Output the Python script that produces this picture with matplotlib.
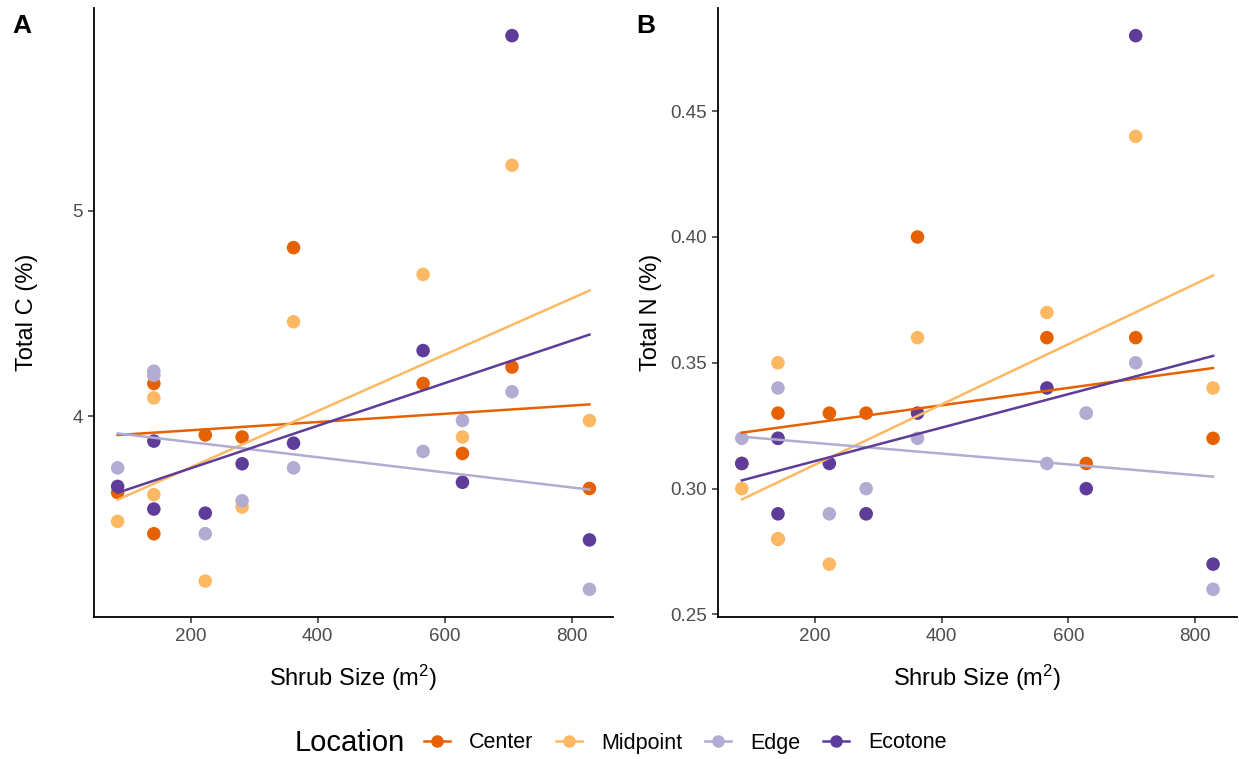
import numpy as np
import matplotlib
matplotlib.use("Agg")
import matplotlib.pyplot as plt
from matplotlib.lines import Line2D

plt.rcParams['font.family'] = ['Liberation Sans', 'DejaVu Sans']
plt.rcParams['mathtext.fontset'] = 'custom'
plt.rcParams['mathtext.rm'] = 'Liberation Sans'
plt.rcParams['mathtext.it'] = 'Liberation Sans:italic'

locations = ["Center", "Midpoint", "Edge", "Ecotone"]
colors = {"Center": "#E66101", "Midpoint": "#FDB863",
          "Edge": "#B2ABD2", "Ecotone": "#5E3C99"}

shrub_size = [85, 142, 142, 223, 281, 362, 566, 628, 706, 828]  # m2

total_c = {"Center":   [3.63, 4.16, 3.43, 3.91, 3.90, 4.82, 4.16, 3.82, 4.24, 3.65],
           "Midpoint": [3.49, 4.09, 3.62, 3.20, 3.56, 4.46, 4.69, 3.90, 5.22, 3.98],
           "Edge":     [3.75, 4.22, 4.20, 3.43, 3.59, 3.75, 3.83, 3.98, 4.12, 3.16],
           "Ecotone":  [3.66, 3.88, 3.55, 3.53, 3.77, 3.87, 4.32, 3.68, 5.85, 3.40],
           }  # %
total_n = {"Center":   [0.31, 0.33, 0.28, 0.33, 0.33, 0.40, 0.36, 0.31, 0.36, 0.32],
           "Midpoint": [0.30, 0.35, 0.28, 0.27, 0.29, 0.36, 0.37, 0.33, 0.44, 0.34],
           "Edge":     [0.32, 0.34, 0.32, 0.29, 0.30, 0.32, 0.31, 0.33, 0.35, 0.26],
           "Ecotone":  [0.31, 0.32, 0.29, 0.31, 0.29, 0.33, 0.34, 0.30, 0.48, 0.27],
           }  # %

x_ticks = [200, 400, 600, 800]
c_ticks = [4, 5]
n_ticks = [0.25, 0.30, 0.35, 0.40, 0.45]


def expand(vals, frac=0.05):
    lo, hi = min(vals), max(vals)
    pad = (hi - lo) * frac
    return lo - pad, hi + pad


def panel(ax, data, yticks, ylabel, fmt, tag):
    x = np.array(shrub_size, dtype=float)
    for loc in locations:
        ax.scatter(x, data[loc], s=95, color=colors[loc], edgecolors='none', zorder=2)
    for loc in locations:
        a, b = np.polyfit(x, data[loc], 1)
        xs = np.array([x.min(), x.max()])
        ax.plot(xs, a * xs + b, color=colors[loc], lw=1.8, zorder=3)
    allv = [v for loc in locations for v in data[loc]]
    ax.set_xlim(expand(shrub_size))
    ax.set_ylim(expand(allv))
    ax.set_xticks(x_ticks)
    ax.set_yticks(yticks)
    ax.set_yticklabels([fmt.format(t) for t in yticks])
    ax.spines[['top', 'right']].set_visible(False)
    for s in ['left', 'bottom']:
        ax.spines[s].set_linewidth(1.3)
        ax.spines[s].set_color('black')
    ax.tick_params(length=4, width=1.1, color='#333333', labelsize=13.5,
                   labelcolor='#4D4D4D', pad=4)
    ax.set_xlabel("Shrub Size (m$^2$)", fontsize=17, labelpad=13)
    ax.set_ylabel(ylabel, fontsize=17, va='center')
    ax.yaxis.set_label_coords(-0.129, 0.5)
    ax.text(-0.158, 0.99, tag, transform=ax.transAxes, fontsize=19,
            fontweight='bold', va='top', ha='left')


fig = plt.figure(figsize=(12.39, 7.59), dpi=100)
ax1 = fig.add_axes([0.0759, 0.1871, 0.4189, 0.8024])
ax2 = fig.add_axes([0.5797, 0.1871, 0.4184, 0.8024])
panel(ax1, total_c, c_ticks, "Total C (%)", "{:g}", "A")
panel(ax2, total_n, n_ticks, "Total N (%)", "{:.2f}", "B")

handles = [Line2D([0], [0], color=colors[loc], lw=1.8, marker='o', markersize=8)
           for loc in locations]
fig.text(295 / 1239, 16 / 759, "Location", fontsize=21, va='center', ha='left')
fig.legend(handles, locations, loc='center left', bbox_to_anchor=(424 / 1239, 16 / 759),
           ncol=4, frameon=False, fontsize=15.5, handlelength=1.2, handletextpad=0.9,
           columnspacing=1.05, borderaxespad=0, borderpad=0)

fig.savefig("out.png", dpi=100)
